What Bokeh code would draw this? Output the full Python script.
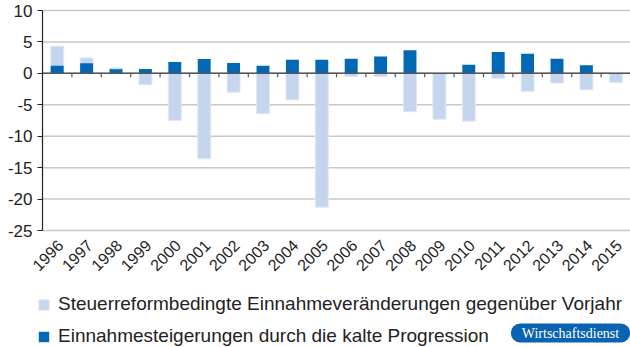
import math
from bokeh.plotting import figure
from bokeh.core.properties import value
from bokeh.models import (Range1d, FixedTicker, Legend, LegendItem, Label,
                          ColumnDataSource)
from bokeh.embed import file_html
from bokeh.resources import INLINE

years = ["1996", "1997", "1998", "1999", "2000", "2001", "2002", "2003", "2004", "2005",
         "2006", "2007", "2008", "2009", "2010", "2011", "2012", "2013", "2014", "2015"]
steuerreform = [4.3, 2.45, 0.85, -1.8, -7.5, -13.6, -3.0, -6.4, -4.2, -21.3,
                -0.5, -0.5, -6.1, -7.3, -7.6, -0.8, -2.85, -1.55, -2.6, -1.45]
kalte_progression = [1.22, 1.6, 0.64, 0.69, 1.8, 2.3, 1.64, 1.22, 2.18, 2.18,
                     2.33, 2.7, 3.66, 0.0, 1.38, 3.4, 3.13, 2.33, 1.27, 0.0]
y_ticks = [-25, -20, -15, -10, -5, 0, 5, 10]
series_labels = ["Steuerreformbedingte Einnahmeveränderungen gegenüber Vorjahr",
                 "Einnahmesteigerungen durch die kalte Progression"]

LIGHT = "#c6d5ee"
DARK = "#0068b5"
FONT = "Liberation Sans"
W, H = 630, 347
AXIS_X_PX = 42           # pixel position of the value axis
Y_MIN, Y_MAX = -25, 10
n = len(years)

# layout: value axis spans 220 px (y=10px .. 230px); the frame covers the whole canvas
px_per_unit = 220 / (Y_MAX - Y_MIN)
top_pad_px, below_px = 10, 117
y_lo = Y_MIN - below_px / px_per_unit
y_hi = Y_MAX + top_pad_px / px_per_unit
px_per_cat = (W - AXIS_X_PX) / n
x_lo = -AXIS_X_PX / px_per_cat

xpos = [i + 0.5 for i in range(n)]
src = ColumnDataSource(dict(x=xpos, a=steuerreform, b=kalte_progression,
                            lab=years, ylab=[Y_MIN] * n))

p = figure(width=W, height=H, output_backend="svg", toolbar_location=None,
           x_range=Range1d(x_lo, n), y_range=Range1d(y_lo, y_hi),
           x_axis_location=None, min_border=0)
p.outline_line_color = None
p.background_fill_color = "white"
p.xgrid.grid_line_color = None
p.ygrid.grid_line_color = None

# horizontal grid lines from the axis to the right edge
p.segment(x0=[0] * len(y_ticks), x1=[n] * len(y_ticks), y0=y_ticks, y1=y_ticks,
          line_color="#c8c8c8", line_width=1.5)

r1 = p.vbar(x="x", top="a", bottom=0, width=0.44, source=src, fill_color=LIGHT,
            line_color="#dfe7f5", line_width=1)
r2 = p.vbar(x="x", top="b", bottom=0, width=0.44, source=src, fill_color=DARK, line_color=None)

# zero line and category boundary ticks
p.segment(x0=[0], x1=[n], y0=[0], y1=[0], line_color="#555555", line_width=1.5)
bounds = list(range(1, n + 1))
p.segment(x0=bounds, x1=bounds, y0=[0] * n, y1=[-0.6] * n,
          line_color="#555555", line_width=1.2)

# rotated category labels
p.text(x="x", y="ylab", text="lab", source=src, angle=math.pi / 4,
       text_align="right", text_baseline="middle", x_offset=3, y_offset=12,
       text_font=value(FONT), text_font_size="16px", text_color="#222222")

# value axis at the start of the categories
p.yaxis.fixed_location = 0
p.yaxis.ticker = FixedTicker(ticks=y_ticks)
p.yaxis.bounds = (Y_MIN, Y_MAX)
p.yaxis.major_label_overrides = {t: str(t) for t in y_ticks}
p.yaxis.axis_line_color = "#222222"
p.yaxis.axis_line_width = 1.2
p.yaxis.major_tick_line_color = "#222222"
p.yaxis.major_tick_out = 5
p.yaxis.major_tick_in = 0
p.yaxis.minor_tick_line_color = None
p.yaxis.major_label_text_font = FONT
p.yaxis.major_label_text_font_size = "17px"
p.yaxis.major_label_text_color = "#222222"
p.yaxis.major_label_standoff = 5

legend = Legend(items=[
    LegendItem(label=series_labels[0], renderers=[r1]),
    LegendItem(label=series_labels[1], renderers=[r2]),
], location=(37, 0), orientation="vertical")
legend.glyph_width = 13
legend.glyph_height = 13
legend.label_height = 22
legend.spacing = 10
legend.padding = 0
legend.margin = 0
legend.label_standoff = 8
legend.border_line_color = None
legend.background_fill_alpha = 0
legend.label_text_font = FONT
legend.label_text_font_size = "19px"
legend.label_text_color = "#222222"
p.add_layout(legend, "center")

badge = Label(x=570, y=14.5, x_units="screen", y_units="screen", text="Wirtschaftsdienst",
              text_align="center", text_baseline="middle", text_color="white",
              text_font="Liberation Serif", text_font_size="14px",
              background_fill_color="#0a63b0", border_line_color=None,
              border_radius=10, padding=(11, 2))
p.add_layout(badge)

open("out.html", "w").write(file_html(p, INLINE))
